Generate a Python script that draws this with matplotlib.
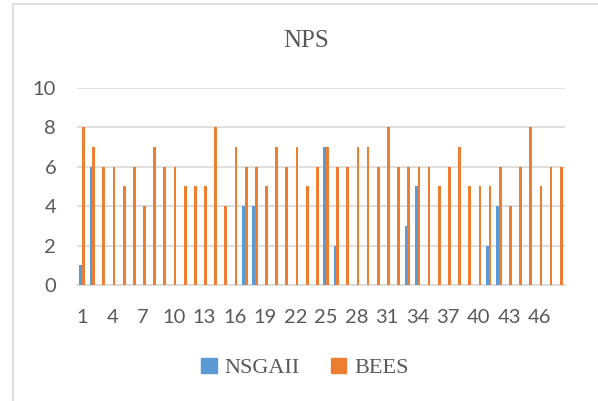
import numpy as np
import matplotlib.pyplot as plt
from matplotlib.patches import Patch
from matplotlib.lines import Line2D

# one entry per run, 1..48
runs = list(range(1, 49))
nsgaii = [1, 6, 0, 0, 0, 0, 0, 0, 0, 0, 0, 0, 0, 0, 0, 0, 4, 4, 0, 0, 0, 0, 0, 0,
          7, 2, 0, 0, 0, 0, 0, 0, 3, 5, 0, 0, 0, 0, 0, 0, 2, 4, 0, 0, 0, 0, 0, 0]
bees = [8, 7, 6, 6, 5, 6, 4, 7, 6, 6, 5, 5, 5, 8, 4, 7, 6, 6, 5, 7, 6, 7, 5, 6,
        7, 6, 6, 7, 7, 6, 8, 6, 6, 6, 6, 5, 6, 7, 5, 5, 5, 6, 4, 6, 8, 5, 6, 6]
tick_runs = runs[::3]

blue = "#5b9bd5"
orange = "#ed7d31"
grid_col = "#d9d9d9"
text_col = "#595959"

fig = plt.figure(figsize=(5.98, 4.01), dpi=100)
ax = fig.add_axes([0.1288, 0.2893, 0.8160, 0.4920])

x = np.array(runs)
w = 0.27
ax.bar(x - w / 2, nsgaii, width=w, color=blue, linewidth=0, zorder=3)
ax.bar(x + w / 2, bees, width=w, color=orange, linewidth=0, zorder=3)

ax.set_xlim(0.5, 48.5)
ax.set_ylim(0, 10)
ax.set_yticks(range(0, 11, 2))
ax.set_xticks(tick_runs)
ax.yaxis.grid(True, color=grid_col, linewidth=1.2, zorder=0)
ax.set_axisbelow(True)
for s in ["top", "right", "left"]:
    ax.spines[s].set_visible(False)
ax.spines["bottom"].set_color(grid_col)
ax.spines["bottom"].set_linewidth(1.2)
ax.tick_params(length=0, labelsize=14.5, labelcolor=text_col)
ax.tick_params(axis="x", pad=17)
ax.tick_params(axis="y", pad=15)
for lab in ax.get_xticklabels() + ax.get_yticklabels():
    lab.set_family("Lato")

fig.text(0.5125, 0.899, "NPS", ha="center", va="center", fontsize=18,
         family="Liberation Serif", color=text_col)

handles = [Patch(color=blue, label="NSGAII"), Patch(color=orange, label="BEES")]
fig.legend(handles=handles, loc="center", bbox_to_anchor=(0.51, 0.082), ncol=2,
           frameon=False, handlelength=0.7, handleheight=0.7, handletextpad=0.35,
           columnspacing=1.4, prop={"family": "Liberation Serif", "size": 16},
           labelcolor=text_col)

# chart area border (left and top edges visible)
fig.add_artist(Line2D([13 / 598, 13 / 598], [0, 1 - 4 / 401], transform=fig.transFigure,
                      color=grid_col, linewidth=1.2))
fig.add_artist(Line2D([13 / 598, 1], [1 - 4 / 401, 1 - 4 / 401], transform=fig.transFigure,
                      color=grid_col, linewidth=1.2))

fig.savefig("out.png", dpi=100)
